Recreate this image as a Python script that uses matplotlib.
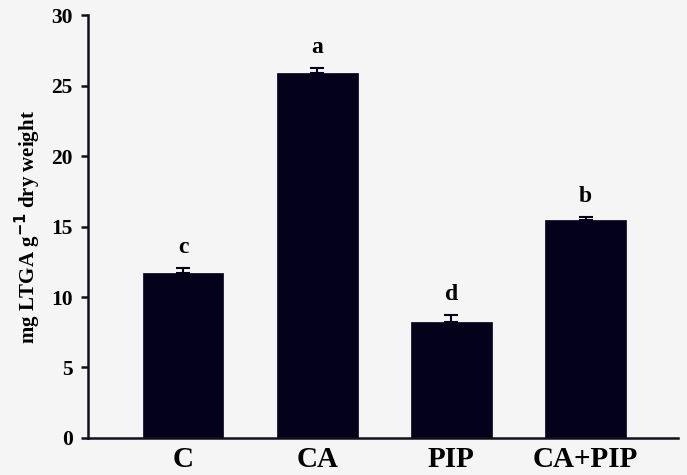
import matplotlib
matplotlib.use("Agg")
import matplotlib.pyplot as plt

categories = ["C", "CA", "PIP", "CA+PIP"]
values = [11.7, 25.9, 8.2, 15.45]
errors = [0.35, 0.35, 0.55, 0.25]
letters = ["c", "a", "d", "b"]
yticks = [0, 5, 10, 15, 20, 25, 30]

bg = "#f5f5f5"
dark = "#03021a"
serif = ["Liberation Serif", "DejaVu Serif"]

fig = plt.figure(figsize=(6.87, 4.75), dpi=100, facecolor=bg)
ax = fig.add_axes([0.128, 0.078, 0.859, 0.890], facecolor=bg)

x = list(range(len(categories)))
ax.bar(x, values, width=0.6, color=dark, edgecolor=dark, linewidth=0.5, zorder=2)
ax.errorbar(x, values, yerr=[[0] * len(errors), errors], fmt="none",
            ecolor=dark, elinewidth=1.5, capsize=5, capthick=1.5, zorder=3)
for xi, v, e, l in zip(x, values, errors, letters):
    ax.annotate(l, (xi, v + e), xytext=(0, 7), textcoords="offset points",
                ha="center", va="bottom", fontsize=17, fontweight="bold",
                family=serif, color="black")

ax.set_xlim(-0.71, 3.69)
ax.set_ylim(0, 30)
ax.set_yticks(yticks)
ax.set_xticks(x)
ax.set_xticklabels(categories, fontsize=21, fontweight="bold", family=serif)
ax.set_yticklabels([str(t) for t in yticks], fontsize=15.5, fontweight="bold", family=serif)
ax.tick_params(axis="x", length=0, pad=6)
ax.tick_params(axis="y", length=5, width=1.8, direction="out", color="#10101e", pad=6)
for s in ["top", "right"]:
    ax.spines[s].set_visible(False)
for s in ["left", "bottom"]:
    ax.spines[s].set_linewidth(1.8)
    ax.spines[s].set_color("#10101e")

ax.set_ylabel(r"mg LTGA g$^{\mathbf{-1}}$ dry weight", fontsize=15,
              fontweight="bold", family=serif, labelpad=6)

fig.savefig("out.png", dpi=100, facecolor=bg)
